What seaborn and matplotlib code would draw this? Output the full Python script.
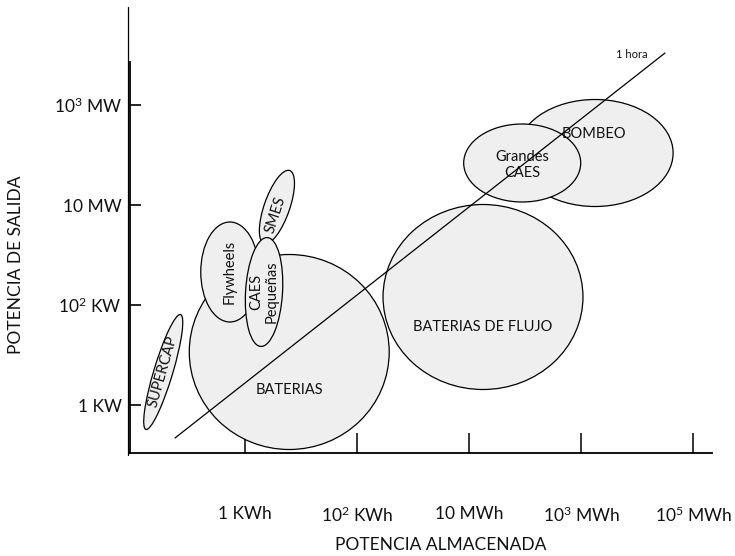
import matplotlib
matplotlib.use("Agg")
import matplotlib.pyplot as plt
from matplotlib.patches import Ellipse
import seaborn as sns
import pandas as pd

# ---- data (x: log10 energy in kWh, y: log10 power in kW) ----
techs = ["BATERIAS", "BATERIAS DE FLUJO", "BOMBEO", "Grandes\nCAES",
         "SMES", "Flywheels", "CAES\nPequeñas", "SUPERCAP"]
center_x = [0.79, 4.25, 6.25, 4.95, 0.57, -0.27, 0.34, -1.46]
center_y = [1.06, 2.16, 5.04, 4.84, 3.96, 2.66, 2.26, 0.66]
span_major = [3.57, 3.57, 2.79, 2.09, 1.53, 1.04, 2.18, 2.38]
span_minor = [3.90, 3.70, 2.14, 1.56, 0.46, 2.00, 0.66, 0.34]
tilt = [0, 0, 0, 0, 73, 0, 87, 75]

x_ticks = [0, 2, 4, 6, 8]
x_ticklabels = ["1 KWh", r"$10^2$ KWh", "10 MWh", r"$10^3$ MWh", r"$10^5$ MWh"]
y_ticks = [0, 2, 4, 6]
y_ticklabels = ["1 KW", r"$10^2$ KW", "10 MW", r"$10^3$ MW"]

hour_line_x = [-1.25, 7.5]
hour_line_y = [-0.66, 7.04]

# ---- layout ----
label_offset = {"BATERIAS": (0, -0.76), "BATERIAS DE FLUJO": (0, -0.6),
                "BOMBEO": (-0.02, 0.38), "Grandes\nCAES": (0, -0.04),
                "SMES": (-0.03, -0.16), "Flywheels": (0, 0),
                "CAES\nPequeñas": (0, 0), "SUPERCAP": (0, 0)}
label_rot = {"SMES": 72, "Flywheels": 90, "CAES\nPequeñas": 90, "SUPERCAP": 74}
draw_order = ["BATERIAS", "BATERIAS DE FLUJO", "BOMBEO", "Grandes\nCAES",
              "SMES", "Flywheels", "CAES\nPequeñas", "SUPERCAP"]

sns.set_theme(style="white")
plt.rcParams["font.family"] = ["Lato", "DejaVu Sans"]
plt.rcParams["mathtext.fontset"] = "custom"
plt.rcParams["mathtext.rm"] = "Lato"
plt.rcParams["mathtext.it"] = "Lato:italic"
plt.rcParams["ytick.left"] = True
plt.rcParams["xtick.bottom"] = True

fig = plt.figure(figsize=(7.35, 5.56), dpi=100)
ax = fig.add_axes([130 / 735, 1 - 453 / 556, (712 - 130) / 735, (453 - 7) / 556])
ax.set_xlim((130 - 245) / 56, (712 - 245) / 56)
ax.set_ylim((405 - 453) / 50, (405 - 7) / 50)

df = pd.DataFrame({"tech": techs, "cx": center_x, "cy": center_y,
                   "w": span_major, "h": span_minor, "ang": tilt})
for z, name in enumerate(draw_order):
    r = df[df.tech == name].iloc[0]
    e = Ellipse((r.cx, r.cy), r.w, r.h, angle=r.ang, facecolor="#efefef",
                edgecolor="black", linewidth=0.9, zorder=2 + z)
    ax.add_patch(e)
    dx, dy = label_offset[name]
    ax.text(r.cx + dx, r.cy + dy, name, ha="center", va="center",
            rotation=label_rot.get(name, 0), rotation_mode="anchor",
            fontsize=10.5, color="#111111", zorder=20, linespacing=1.1)

line_df = pd.DataFrame({"x": hour_line_x, "y": hour_line_y})
sns.lineplot(data=line_df, x="x", y="y", ax=ax, color="black", linewidth=0.9,
             zorder=30)
ax.text(hour_line_x[1] - 0.6, hour_line_y[1] - 0.02, "1 hora", fontsize=8,
        ha="center", va="center", color="#111111")

ax.set_xticks(x_ticks)
ax.set_xticklabels(x_ticklabels)
ax.set_yticks(y_ticks)
ax.set_yticklabels(y_ticklabels)
ax.tick_params(axis="x", which="major", bottom=True, direction="in",
               length=14.5, width=1.1, color="black", pad=38, labelsize=12.5,
               labelcolor="#111111")
ax.tick_params(axis="y", which="major", left=True, direction="in",
               length=8, width=1.2, color="black", pad=6, labelsize=12.5,
               labelcolor="#111111")
ax.set_xlabel("POTENCIA ALMACENADA", fontsize=12.5, color="#111111")
ax.set_ylabel("POTENCIA DE SALIDA", fontsize=12.5, color="#111111")
ax.xaxis.set_label_coords((441 - 130) / 582, (453 - 545) / 446)
ax.yaxis.set_label_coords((16 - 130) / 582, (453 - 265) / 446)
ax.xaxis.label.set_va("center")
ax.yaxis.label.set_va("center")

for s in ["top", "right"]:
    ax.spines[s].set_visible(False)
for s in ["left", "bottom"]:
    ax.spines[s].set_color("black")
    ax.spines[s].set_linewidth(1.3)
ax.spines["left"].set_bounds(ax.get_ylim()[0], (405 - 62) / 50)
ax.plot([-0.004, -0.004], [-0.004, 1.0], transform=ax.transAxes, color="black",
        linewidth=0.9, clip_on=False, zorder=40)
ax.grid(False)

fig.savefig("out.png", dpi=100)
